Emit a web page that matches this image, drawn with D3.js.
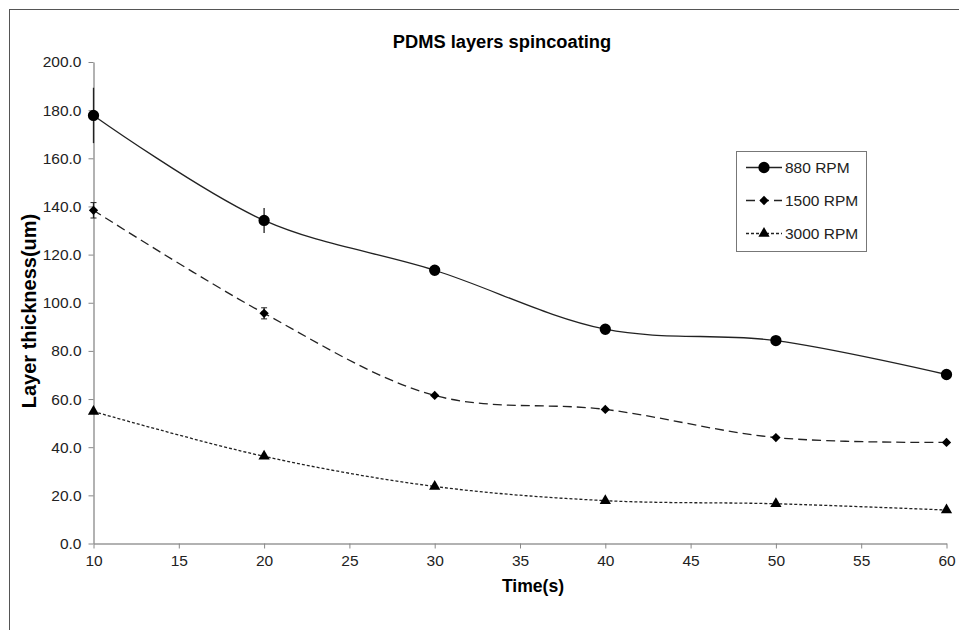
<!DOCTYPE html>
<html>
<head>
<meta charset="utf-8">
<script src="https://cdn.jsdelivr.net/npm/d3@7"></script>
<style>
  body { margin: 0; background: #fff; }
  text { font-family: "Liberation Sans", Arial, sans-serif; }
</style>
</head>
<body>
<svg id="chart" width="959" height="630"></svg>
<script>
// values
var times = [10, 20, 30, 40, 50, 60]
var rpm880 = [177.8, 134.2, 113.5, 89.0, 84.3, 70.2]
var err880 = [11.5, 5.2, 0, 0, 0, 0]
var rpm1500 = [138.4, 95.6, 61.5, 55.7, 44.0, 42.0]
var err1500 = [3.2, 2.3, 0, 0, 0, 0]
var rpm3000 = [54.8, 36.2, 23.7, 17.8, 16.5, 13.9]
var seriesNames = ['880 RPM', '1500 RPM', '3000 RPM']
var xTicks = [10, 15, 20, 25, 30, 35, 40, 45, 50, 55, 60]
var yTicks = [0, 20, 40, 60, 80, 100, 120, 140, 160, 180, 200]

var series = [
  { name: seriesNames[0], values: rpm880, errs: err880, dash: null, symbol: d3.symbolCircle, size: 100, cap: 0 },
  { name: seriesNames[1], values: rpm1500, errs: err1500, dash: '9,5', symbol: d3.symbolDiamond2, size: 55, cap: 3 },
  { name: seriesNames[2], values: rpm3000, errs: null, dash: '3,2', symbol: d3.symbolTriangle, size: 55, cap: 0 }
]

const svg = d3.select('#chart')

// outer frame (only top and left edges visible)
svg.append('rect')
  .attr('x', 9.5).attr('y', 9.5)
  .attr('width', 1000).attr('height', 1000)
  .attr('fill', 'none').attr('stroke', '#555').attr('stroke-width', 1)

const x = d3.scaleLinear().domain([10, 60]).range([93.5, 946.5])
const y = d3.scaleLinear().domain([0, 200]).range([543.5, 62])

svg.append('g')
  .attr('transform', 'translate(0,' + y(0) + ')')
  .call(d3.axisBottom(x).tickValues(xTicks).tickSize(5).tickSizeOuter(0).tickPadding(6))
svg.append('g')
  .attr('transform', 'translate(' + x(10) + ',0)')
  .call(d3.axisLeft(y).tickValues(yTicks).tickSize(5).tickSizeOuter(0).tickPadding(7).tickFormat(d3.format('.1f')))

svg.selectAll('.domain').attr('stroke', '#999').attr('stroke-width', 1.5)
svg.selectAll('.tick line').attr('stroke', '#888')
svg.selectAll('.tick text').attr('fill', '#222').style('font-size', '15.5px')

const line = d3.line()
  .x((d, i) => x(times[i]))
  .y((d) => y(d))
  .curve(d3.curveCatmullRom.alpha(0.5))

const plot = svg.append('g')

series.forEach(function(s) {
  plot.append('path')
    .attr('d', line(s.values))
    .attr('fill', 'none')
    .attr('stroke', '#222')
    .attr('stroke-width', 1.3)
    .attr('stroke-dasharray', s.dash)

  if (s.errs) {
    s.values.forEach(function(v, i) {
      var e = s.errs[i]
      if (!e) return
      plot.append('line')
        .attr('x1', x(times[i])).attr('x2', x(times[i]))
        .attr('y1', y(v + e)).attr('y2', y(v - e))
        .attr('stroke', '#222').attr('stroke-width', 1.3)
      if (s.cap) {
        [v + e, v - e].forEach(function(c) {
          plot.append('line')
            .attr('x1', x(times[i]) - s.cap).attr('x2', x(times[i]) + s.cap)
            .attr('y1', y(c)).attr('y2', y(c))
            .attr('stroke', '#222').attr('stroke-width', 1)
        })
      }
    })
  }

  plot.selectAll(null)
    .data(s.values)
    .enter()
    .append('path')
    .attr('d', d3.symbol().type(s.symbol).size(s.size))
    .attr('transform', (d, i) => 'translate(' + x(times[i]) + ',' + y(d) + ')')
    .attr('fill', '#000')
})

// legend
const legend = svg.append('g')
legend.append('rect')
  .attr('x', 736.5).attr('y', 151.5)
  .attr('width', 130).attr('height', 100)
  .attr('fill', '#fff').attr('stroke', '#777').attr('stroke-width', 1)

series.forEach(function(s, i) {
  var ly = 167.5 + i * 33
  legend.append('line')
    .attr('x1', 746).attr('x2', 782)
    .attr('y1', ly).attr('y2', ly)
    .attr('stroke', '#222').attr('stroke-width', 1.3)
    .attr('stroke-dasharray', s.dash)
  legend.append('path')
    .attr('d', d3.symbol().type(s.symbol).size(s.size))
    .attr('transform', 'translate(764,' + ly + ')')
    .attr('fill', '#000')
  legend.append('text')
    .attr('x', 785).attr('y', ly + 5.5)
    .attr('fill', '#222')
    .style('font-size', '15.5px')
    .text(s.name)
})

// titles
svg.append('text')
  .attr('x', 502).attr('y', 48)
  .attr('text-anchor', 'middle')
  .style('font-size', '18.3px').style('font-weight', 'bold')
  .text('PDMS layers spincoating')

svg.append('text')
  .attr('x', 533).attr('y', 592)
  .attr('text-anchor', 'middle')
  .style('font-size', '17.6px').style('font-weight', 'bold')
  .text('Time(s)')

svg.append('text')
  .attr('transform', 'translate(36,311) rotate(-90)')
  .attr('text-anchor', 'middle')
  .style('font-size', '20px').style('font-weight', 'bold')
  .text('Layer thickness(um)')
</script>
</body>
</html>
